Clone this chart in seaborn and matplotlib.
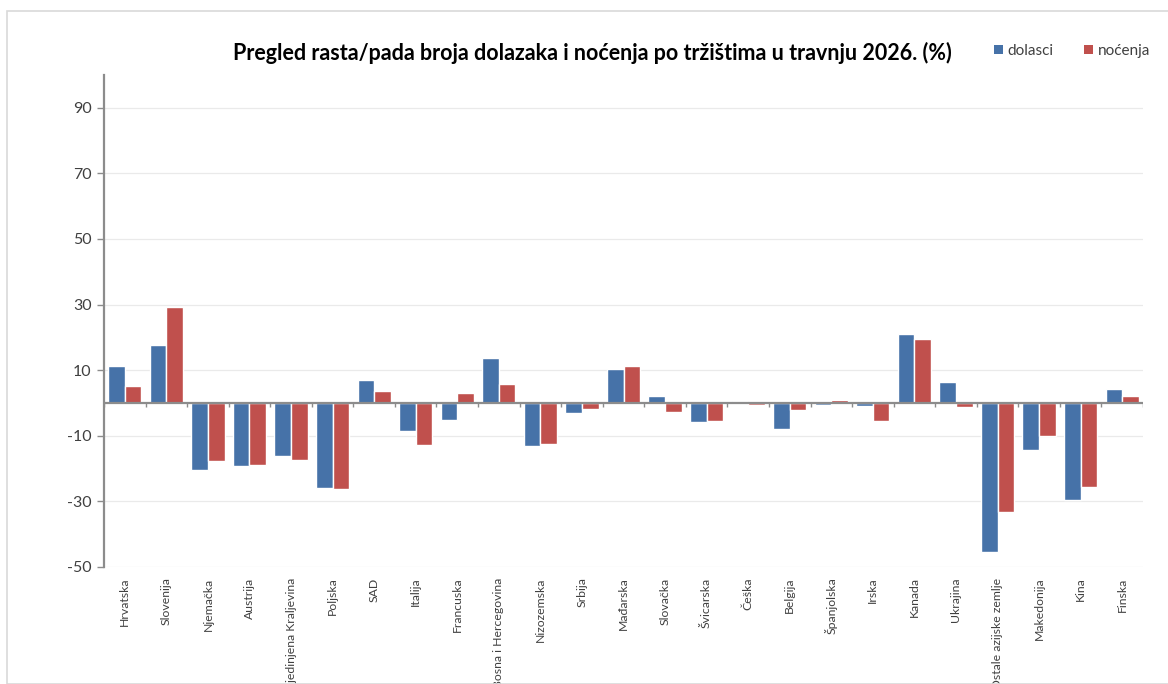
import numpy as np
import pandas as pd
import matplotlib
matplotlib.use("Agg")
import matplotlib.pyplot as plt
import seaborn as sns
from matplotlib.patches import Rectangle, Patch

categories = ["Hrvatska", "Slovenija", "Njemačka", "Austrija", "Ujedinjena Kraljevina",
              "Poljska", "SAD", "Italija", "Francuska", "Bosna i Hercegovina",
              "Nizozemska", "Srbija", "Mađarska", "Slovačka", "Švicarska", "Češka",
              "Belgija", "Španjolska", "Irska", "Kanada", "Ukrajina",
              "Ostale azijske zemlje", "Makedonija", "Kina", "Finska"]
dolasci = [11.3, 17.7, -20.4, -19.1, -16.1, -25.9, 6.9, -8.4, -5.2, 13.7,
           -13.0, -3.1, 10.3, 2.0, -5.8, 0.6, -7.8, -0.5, -0.9, 20.9,
           6.3, -45.3, -14.4, -29.7, 4.4]
nocenja = [5.2, 29.4, -17.6, -18.8, -17.3, -26.1, 3.6, -12.8, 3.0, 5.7,
           -12.4, -1.8, 11.3, -2.7, -5.5, -0.5, -2.0, 0.8, -5.6, 19.4,
           -1.2, -33.2, -10.2, -25.7, 2.1]
series_names = ["dolasci", "noćenja"]
colors = ["#4672A8", "#C0504D"]
title = "Pregled rasta/pada broja dolazaka i noćenja po tržištima u travnju 2026. (%)"
yticks = [-50, -30, -10, 10, 30, 50, 70, 90]

df = pd.DataFrame({
    "trziste": categories * 2,
    "serija": [series_names[0]] * len(categories) + [series_names[1]] * len(categories),
    "vrijednost": dolasci + nocenja,
})

sns.set_theme(style="white")
plt.rcParams["font.family"] = ["Lato", "DejaVu Sans"]

fig = plt.figure(figsize=(11.68, 6.84), dpi=100)
ax = fig.add_axes([104 / 1168, 1 - 567 / 684, (1143 - 104) / 1168, (567 - 75) / 684])

sns.barplot(data=df, x="trziste", y="vrijednost", hue="serija", palette=colors,
            order=categories, hue_order=series_names, width=0.8,
            edgecolor="white", linewidth=1.0, saturation=1, ax=ax, legend=False,
            zorder=3)

ax.set_ylim(-50, 100)
ax.set_xlim(-0.5, len(categories) - 0.5)
ax.set_yticks(yticks)
ax.set_yticklabels([str(v) for v in yticks], fontsize=11.5, color="#404040")
ax.yaxis.grid(True, color="#EAEAEA", linewidth=0.9, zorder=0)
ax.xaxis.grid(False)
ax.set_axisbelow(True)
for s in ["top", "right", "bottom"]:
    ax.spines[s].set_visible(False)
ax.spines["left"].set_color("#8C8C8C")
ax.spines["left"].set_linewidth(1.6)
ax.tick_params(axis="y", which="both", left=True, length=5, width=1, color="#8C8C8C", pad=4)
ax.tick_params(axis="x", bottom=False, pad=1.5)
ax.set_xticks(range(len(categories)))
ax.set_xticklabels(categories, rotation=90, fontsize=8.8, color="#404040", va="top", ha="center")
ax.set_xlabel("")
ax.set_ylabel("")

# zero axis line with category separator ticks
ax.axhline(0, color="#8C8C8C", linewidth=1.6, zorder=4)
ax.vlines(np.arange(-0.5, len(categories)), 0, -1.3, color="#8C8C8C", linewidth=1.0, zorder=4)

fig.text(592 / 1168, 1 - 53 / 684, title, ha="center", va="center",
         fontsize=15.5, fontweight="bold", color="#000000")

handles = [Patch(facecolor=c, edgecolor="none") for c in colors]
fig.legend(handles, series_names, loc="center", bbox_to_anchor=(1072 / 1168, 1 - 51 / 684),
           ncol=2, frameon=False, fontsize=11, handlelength=0.6, handleheight=0.6,
           handletextpad=0.3, columnspacing=2.0, labelcolor="#404040")

fig.patches.append(Rectangle((7 / 1168, 0), 1.2, 1 - 11 / 684, transform=fig.transFigure,
                             fill=False, edgecolor="#D9D9D9", linewidth=1.2))

fig.savefig("out.png", dpi=100)
